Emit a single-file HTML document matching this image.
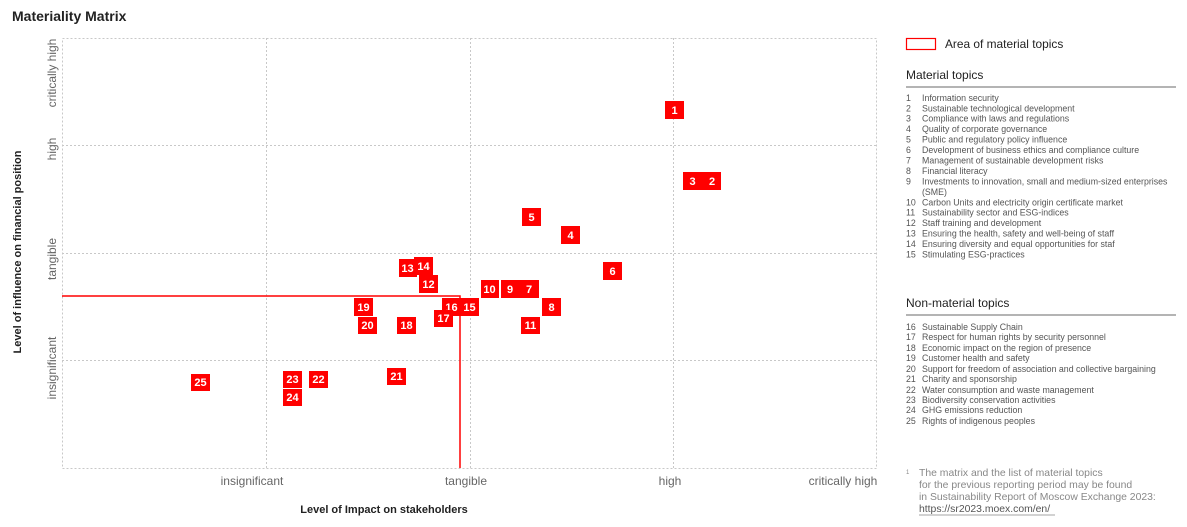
<!DOCTYPE html>
<html><head><meta charset="utf-8"><style>
body{margin:0;background:#fff;width:1187px;height:522px;overflow:hidden;font-family:"Liberation Sans",sans-serif;}
</style></head><body>
<svg width="1187" height="522" xmlns="http://www.w3.org/2000/svg" font-family="Liberation Sans, sans-serif">
<text x="12" y="21" font-size="14" font-weight="bold" fill="#222">Materiality Matrix</text>
<g stroke="#c8c8c8" stroke-width="1" stroke-dasharray="2,2" fill="none">
<rect x="62.5" y="38.5" width="814" height="430"/>
<line x1="266.5" y1="38" x2="266.5" y2="468"/>
<line x1="470.5" y1="38" x2="470.5" y2="468"/>
<line x1="673.5" y1="38" x2="673.5" y2="468"/>
<line x1="62" y1="145.5" x2="877" y2="145.5"/>
<line x1="62" y1="253.5" x2="877" y2="253.5"/>
<line x1="62" y1="360.5" x2="877" y2="360.5"/>
</g>
<polyline points="62,296 460,296 460,468" fill="none" stroke="#f00" stroke-width="1.5"/>
<g font-size="12" fill="#666" text-anchor="middle">
<text x="252" y="485">insignificant</text>
<text x="466" y="485">tangible</text>
<text x="670" y="485">high</text>
<text x="843" y="485">critically high</text>
<text transform="translate(56,73) rotate(-90)">critically high</text>
<text transform="translate(56,149) rotate(-90)">high</text>
<text transform="translate(56,259) rotate(-90)">tangible</text>
<text transform="translate(56,368) rotate(-90)">insignificant</text>
</g>
<text x="384" y="513" font-size="11" font-weight="bold" fill="#222" text-anchor="middle">Level of Impact on stakeholders</text>
<text transform="translate(21,252) rotate(-90)" font-size="11" font-weight="bold" fill="#222" text-anchor="middle">Level of influence on financial position</text>
<g font-size="11" font-weight="bold" text-anchor="middle">
<rect x="665" y="101" width="19" height="18" fill="#f00"/><text x="674.5" y="114" fill="#fff">1</text>
<rect x="683" y="172" width="38" height="18" fill="#f00"/><text x="692.5" y="185" fill="#fff">3</text><text x="712" y="185" fill="#fff">2</text>
<rect x="522" y="208" width="19" height="18" fill="#f00"/><text x="531.5" y="221" fill="#fff">5</text>
<rect x="561" y="226" width="19" height="18" fill="#f00"/><text x="570.5" y="239" fill="#fff">4</text>
<rect x="603" y="262" width="19" height="18" fill="#f00"/><text x="612.5" y="275" fill="#fff">6</text>
<rect x="399" y="259" width="18" height="18" fill="#f00"/><text x="407.5" y="272" fill="#fff">13</text>
<rect x="414" y="257" width="19" height="18" fill="#f00"/><text x="423.5" y="270" fill="#fff">14</text>
<rect x="419" y="275" width="19" height="18" fill="#f00"/><text x="428.5" y="288" fill="#fff">12</text>
<rect x="481" y="280" width="18" height="18" fill="#f00"/><text x="489.5" y="293" fill="#fff">10</text>
<rect x="501" y="280" width="38" height="18" fill="#f00"/><text x="510" y="293" fill="#fff">9</text><text x="529" y="293" fill="#fff">7</text>
<rect x="354" y="298" width="19" height="18" fill="#f00"/><text x="363.5" y="311" fill="#fff">19</text>
<rect x="442" y="298" width="19" height="18" fill="#f00"/><text x="451.5" y="311" fill="#fff">16</text>
<rect x="460" y="298" width="19" height="18" fill="#f00"/><text x="469.5" y="311" fill="#fff">15</text>
<rect x="542" y="298" width="19" height="18" fill="#f00"/><text x="551.5" y="311" fill="#fff">8</text>
<rect x="434" y="310" width="19" height="17" fill="#f00"/><text x="443.5" y="322" fill="#fff">17</text>
<rect x="358" y="317" width="19" height="17" fill="#f00"/><text x="367.5" y="329" fill="#fff">20</text>
<rect x="397" y="317" width="19" height="17" fill="#f00"/><text x="406.5" y="329" fill="#fff">18</text>
<rect x="521" y="317" width="19" height="17" fill="#f00"/><text x="530.5" y="329" fill="#fff">11</text>
<rect x="191" y="374" width="19" height="17" fill="#f00"/><text x="200.5" y="386" fill="#fff">25</text>
<rect x="283" y="371" width="19" height="17" fill="#f00"/><text x="292.5" y="383" fill="#fff">23</text>
<rect x="309" y="371" width="19" height="17" fill="#f00"/><text x="318.5" y="383" fill="#fff">22</text>
<rect x="387" y="368" width="19" height="17" fill="#f00"/><text x="396.5" y="380" fill="#fff">21</text>
<rect x="283" y="389" width="19" height="17" fill="#f00"/><text x="292.5" y="401" fill="#fff">24</text>
</g>
<rect x="906.5" y="38.5" width="29" height="11" fill="none" stroke="#f00" stroke-width="1.2"/>
<text x="945" y="48" font-size="11.9" fill="#222">Area of material topics</text>
<text x="906" y="79" font-size="12" fill="#222">Material topics</text>
<line x1="906" y1="87" x2="1176" y2="87" stroke="#888" stroke-width="1.2"/>
<g font-size="8.8" fill="#555">
<text x="906" y="101">1</text><text x="922" y="101">Information security</text>
<text x="906" y="111.5">2</text><text x="922" y="111.5">Sustainable technological development</text>
<text x="906" y="121.5">3</text><text x="922" y="121.5">Compliance with laws and regulations</text>
<text x="906" y="132">4</text><text x="922" y="132">Quality of corporate governance</text>
<text x="906" y="142.5">5</text><text x="922" y="142.5">Public and regulatory policy influence</text>
<text x="906" y="153">6</text><text x="922" y="153">Development of business ethics and compliance culture</text>
<text x="906" y="163.5">7</text><text x="922" y="163.5">Management of sustainable development risks</text>
<text x="906" y="174">8</text><text x="922" y="174">Financial literacy</text>
<text x="906" y="184.5">9</text><text x="922" y="184.5">Investments to innovation, small and medium-sized enterprises</text>
<text x="922" y="195">(SME)</text>
<text x="906" y="205.5">10</text><text x="922" y="205.5">Carbon Units and electricity origin certificate market</text>
<text x="906" y="215.5">11</text><text x="922" y="215.5">Sustainability sector and ESG-indices</text>
<text x="906" y="226">12</text><text x="922" y="226">Staff training and development</text>
<text x="906" y="236.5">13</text><text x="922" y="236.5">Ensuring the health, safety and well-being of staff</text>
<text x="906" y="247">14</text><text x="922" y="247">Ensuring diversity and equal opportunities for staf</text>
<text x="906" y="257.5">15</text><text x="922" y="257.5">Stimulating ESG-practices</text>
</g>
<text x="906" y="307" font-size="12" fill="#222">Non-material topics</text>
<line x1="906" y1="315" x2="1176" y2="315" stroke="#888" stroke-width="1.2"/>
<g font-size="8.8" fill="#555">
<text x="906" y="330">16</text><text x="922" y="330">Sustainable Supply Chain</text>
<text x="906" y="340">17</text><text x="922" y="340">Respect for human rights by security personnel</text>
<text x="906" y="351">18</text><text x="922" y="351">Economic impact on the region of presence</text>
<text x="906" y="361">19</text><text x="922" y="361">Customer health and safety</text>
<text x="906" y="372">20</text><text x="922" y="372">Support for freedom of association and collective bargaining</text>
<text x="906" y="382">21</text><text x="922" y="382">Charity and sponsorship</text>
<text x="906" y="393">22</text><text x="922" y="393">Water consumption and waste management</text>
<text x="906" y="403">23</text><text x="922" y="403">Biodiversity conservation activities</text>
<text x="906" y="413">24</text><text x="922" y="413">GHG emissions reduction</text>
<text x="906" y="424">25</text><text x="922" y="424">Rights of indigenous peoples</text>
</g>
<g font-size="10.4" fill="#888">
<text x="906" y="474" font-size="6">1</text>
<text x="919" y="476">The matrix and the list of material topics</text>
<text x="919" y="488">for the previous reporting period may be found</text>
<text x="919" y="500">in Sustainability Report of Moscow Exchange 2023:</text>
<text x="919" y="512" fill="#555">https://sr2023.moex.com/en/</text>
</g>
<line x1="919" y1="515" x2="1055" y2="515" stroke="#888" stroke-width="0.8"/>
</svg>
</body></html>
